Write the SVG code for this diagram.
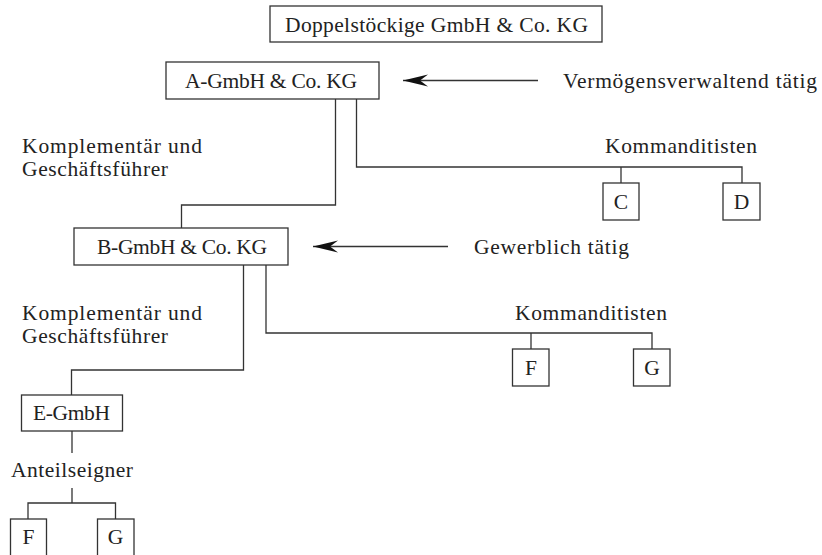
<svg xmlns="http://www.w3.org/2000/svg" width="822" height="555" viewBox="0 0 822 555">
<style>
text{font-family:"Liberation Serif","Times New Roman",serif;font-size:21.5px;fill:#222}
.c{text-anchor:middle}
rect{fill:#fff;stroke:#333;stroke-width:1.3}
.conn path,.conn line{fill:none;stroke:#333;stroke-width:1.3}
</style>
<defs>
<marker id="ah" markerUnits="userSpaceOnUse" markerWidth="25" markerHeight="13" refX="25" refY="6.5" orient="auto">
<path d="M25,6.5 L0,0.5 L8,6.5 L0,12.5 Z" fill="#111"/>
</marker>
</defs>
<g class="conn">
<path d="M335.5,99 V205 H181.5 V228"/>
<path d="M356.5,99 V167 H742 V183"/>
<path d="M621,167 V183"/>
<path d="M243.5,265 V370 H71.5 V395"/>
<path d="M266,265 V333 H652 V349"/>
<path d="M531,333 V349"/>
<path d="M72,431 V453"/>
<path d="M72,488 V503 H28 V519 M28,503 H115.5 V519"/>
<line x1="538" y1="80.5" x2="403" y2="80.5" marker-end="url(#ah)"/>
<line x1="448" y1="246.5" x2="313" y2="246.5" marker-end="url(#ah)"/>
</g>
<g id="title"><rect x="270" y="6" width="332" height="36"/><text x="285" y="32" textLength="303">Doppelstöckige GmbH &amp; Co. KG</text></g>
<g id="a"><rect x="166" y="62" width="213" height="37"/><text x="185" y="88" textLength="172">A-GmbH &amp; Co. KG</text></g>
<g id="label-a"><text x="563" y="88" textLength="254">Vermögensverwaltend tätig</text></g>
<g id="label-k1"><text x="22" y="153" textLength="180">Komplementär und</text><text x="22" y="176" textLength="146">Geschäftsführer</text></g>
<g id="label-kom1"><text x="605" y="153" textLength="152">Kommanditisten</text></g>
<g id="c"><rect x="603" y="183" width="36" height="37"/><text class="c" x="621" y="209">C</text></g>
<g id="d"><rect x="723" y="183" width="37" height="37"/><text class="c" x="741.5" y="209">D</text></g>
<g id="b"><rect x="74" y="228" width="214" height="37"/><text x="97" y="254" textLength="170">B-GmbH &amp; Co. KG</text></g>
<g id="label-b"><text x="474" y="254" textLength="155">Gewerblich tätig</text></g>
<g id="label-k2"><text x="22" y="320" textLength="180">Komplementär und</text><text x="22" y="343" textLength="146">Geschäftsführer</text></g>
<g id="label-kom2"><text x="515" y="320" textLength="152">Kommanditisten</text></g>
<g id="f1"><rect x="512.5" y="349" width="36.5" height="37"/><text class="c" x="531" y="375">F</text></g>
<g id="g1"><rect x="633.5" y="349" width="36.5" height="37"/><text class="c" x="652" y="375">G</text></g>
<g id="e"><rect x="21.5" y="395" width="101" height="36"/><text x="33" y="420" textLength="77">E-GmbH</text></g>
<g id="label-ant"><text x="11" y="477" textLength="122">Anteilseigner</text></g>
<g id="f2"><rect x="10.5" y="519" width="36" height="45"/><text class="c" x="28.5" y="544">F</text></g>
<g id="g2"><rect x="97.5" y="519" width="36.5" height="45"/><text class="c" x="115.5" y="544">G</text></g>
</svg>
